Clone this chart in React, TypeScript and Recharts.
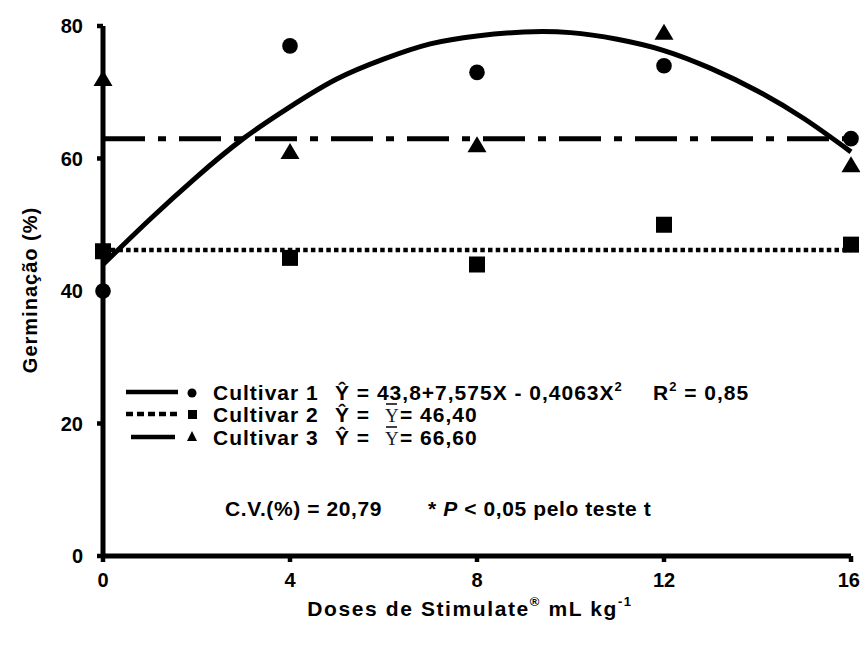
import React from 'react';
import { ComposedChart, XAxis, YAxis, Line, Scatter, ReferenceLine, Legend } from 'recharts';

const doses = [0, 4, 8, 12, 16];
const cultivar1 = [40, 77, 73, 74, 63];
const cultivar2 = [46, 45, 44, 50, 47];
const cultivar3 = [72, 61, 62, 79, 59];
const curveDoses = [0, 1, 2, 3, 4, 5, 6, 7, 8, 9, 10, 11, 12, 13, 14, 15, 16];
const curveValues = [44, 50.8, 57.2, 63, 67.8, 72, 75, 77.3, 78.5, 79.1, 79, 78, 76.3, 73.6, 70.2, 66, 61];
const meanLineCultivar2 = 46.2;
const meanLineCultivar3 = 63;
const xTicks = [0, 4, 8, 12, 16];
const yTicks = [0, 20, 40, 60, 80];
const seriesNames = ['Cultivar 1', 'Cultivar 2', 'Cultivar 3'];

const FONT = '"Liberation Sans", Arial, sans-serif';
const SERIF = '"Liberation Serif", "Times New Roman", serif';

const d1 = doses.map((x, i) => ({ x, y: cultivar1[i] }));
const d2 = doses.map((x, i) => ({ x, y: cultivar2[i] }));
const d3 = doses.map((x, i) => ({ x, y: cultivar3[i] }));
const curve = curveDoses.map((x, i) => ({ x, y: curveValues[i] }));

const CircleShape = (p: any) => <circle cx={p.cx} cy={p.cy} r={7.8} fill="#000" />;
const SquareShape = (p: any) => <rect x={p.cx - 8} y={p.cy - 8} width={16} height={16} fill="#000" />;
const TriangleShape = (p: any) => (
  <polygon points={`${p.cx},${p.cy - 9} ${p.cx + 9.5},${p.cy + 7} ${p.cx - 9.5},${p.cy + 7}`} fill="#000" />
);

const txt = { fontFamily: FONT, fontWeight: 'bold' as const, fill: '#000' };

const W = 860;
const H = 625;

const XTick = (props: any) => {
  const { x, y, payload, index } = props;
  const last = index === xTicks.length - 1;
  return (
    <text x={x} y={y} dy="0.71em" textAnchor={last ? 'end' : 'middle'} dx={last ? 9 : 0} fontSize={20} {...txt}>
      {payload.value}
    </text>
  );
};

const LegendContent = () => {
  const rows = [384, 406, 429];
  const fs = 21;
  const ls = 1.0;
  return (
    <svg width={W} height={H} style={{ position: 'absolute', left: 0, top: 0, overflow: 'visible', display: 'block' }}>
      {/* row 1 */}
      <line x1={118} x2={170} y1={rows[0]} y2={rows[0]} stroke="#000" strokeWidth={4.5} />
      <circle cx={184} cy={rows[0] + 1} r={4.5} fill="#000" />
      <text x={205} y={rows[0]} dominantBaseline="central" fontSize={fs} letterSpacing={ls} {...txt}>{seriesNames[0]}</text>
      <text x={327} y={rows[0]} dominantBaseline="central" fontSize={fs} letterSpacing={ls} {...txt}>
        Ŷ = 43,8+7,575X - 0,4063X<tspan fontSize={13} dy={-6}>2</tspan>
      </text>
      <text x={645} y={rows[0]} dominantBaseline="central" fontSize={fs} letterSpacing={ls} {...txt}>
        R<tspan fontSize={13} dy={-6}>2</tspan><tspan dy={6}> = 0,85</tspan>
      </text>
      {/* row 2 */}
      <line x1={118} x2={170} y1={rows[1]} y2={rows[1]} stroke="#000" strokeWidth={4.5} strokeDasharray="7 4" />
      <rect x={180} y={rows[1] - 4} width={9} height={9} fill="#000" />
      <text x={205} y={rows[1]} dominantBaseline="central" fontSize={fs} letterSpacing={ls} {...txt}>{seriesNames[1]}</text>
      <text x={327} y={rows[1]} dominantBaseline="central" fontSize={fs} letterSpacing={ls} {...txt}>Ŷ =</text>
      <text x={377} y={rows[1] + 1} dominantBaseline="central" fontSize={19} fontFamily={SERIF} fill="#1a1a2e">Y</text>
      <line x1={378} x2={389} y1={rows[1] - 10} y2={rows[1] - 10} stroke="#000" strokeWidth={1.5} />
      <text x={392} y={rows[1]} dominantBaseline="central" fontSize={fs} letterSpacing={ls} {...txt}>= 46,40</text>
      {/* row 3 */}
      <line x1={123} x2={167} y1={rows[2]} y2={rows[2]} stroke="#000" strokeWidth={4.5} />
      <polygon points={`184,${rows[2] - 6} 189,${rows[2] + 4} 179,${rows[2] + 4}`} fill="#000" />
      <text x={205} y={rows[2]} dominantBaseline="central" fontSize={fs} letterSpacing={ls} {...txt}>{seriesNames[2]}</text>
      <text x={327} y={rows[2]} dominantBaseline="central" fontSize={fs} letterSpacing={ls} {...txt}>Ŷ =</text>
      <text x={377} y={rows[2] + 1} dominantBaseline="central" fontSize={19} fontFamily={SERIF} fill="#1a1a2e">Y</text>
      <line x1={378} x2={389} y1={rows[2] - 10} y2={rows[2] - 10} stroke="#000" strokeWidth={1.5} />
      <text x={392} y={rows[2]} dominantBaseline="central" fontSize={fs} letterSpacing={ls} {...txt}>= 66,60</text>
      {/* CV line */}
      <text x={217} y={500} dominantBaseline="central" fontSize={fs} letterSpacing={0.6} {...txt}>C.V.(%) = 20,79</text>
      <text x={420} y={500} dominantBaseline="central" fontSize={fs} letterSpacing={0.6} {...txt}>
        * <tspan fontStyle="italic">P</tspan> &lt; 0,05 pelo teste t
      </text>
      {/* axis titles */}
      <text x={22} y={282} textAnchor="middle" dominantBaseline="central" fontSize={20} letterSpacing={1} transform="rotate(-90 22 282)" {...txt}>Germinação (%)</text>
      <text x={462} y={600} textAnchor="middle" dominantBaseline="central" fontSize={21} letterSpacing={1.6} {...txt}>
        Doses de Stimulate<tspan fontSize={13} dy={-7}>®</tspan><tspan dy={7}> mL kg</tspan><tspan fontSize={13} dy={-7}>-1</tspan>
      </text>
    </svg>
  );
};

export default function App() {
  const tick = { fill: '#000', fontSize: 20, fontWeight: 'bold', fontFamily: FONT };
  return (
    <>
      <style>{'html, body { overflow: hidden; } svg.recharts-surface { overflow: visible; }'}</style>
      <ComposedChart width={W} height={H} margin={{ top: 18, right: W - 843, left: 0, bottom: 0 }}>
        <XAxis
          dataKey="x"
          type="number"
          domain={[0, 16]}
          ticks={xTicks}
          interval={0}
          height={H - 548}
          tickSize={6}
          tickMargin={11}
          axisLine={{ stroke: '#000', strokeWidth: 5 }}
          tickLine={{ stroke: '#000', strokeWidth: 4.5 }}
          tick={XTick}
        />
        <YAxis
          type="number"
          domain={[0, 80]}
          ticks={yTicks}
          interval={0}
          width={95}
          tickSize={6}
          tickMargin={14}
          axisLine={{ stroke: '#000', strokeWidth: 5 }}
          tickLine={{ stroke: '#000', strokeWidth: 4.5 }}
          tick={tick}
        />
        <ReferenceLine y={meanLineCultivar3} stroke="#000" strokeWidth={5} strokeDasharray="42 13 8 13" ifOverflow="visible" />
        <ReferenceLine y={meanLineCultivar2} stroke="#000" strokeWidth={4.5} strokeDasharray="4.5 3.2" ifOverflow="visible" />
        <Line data={curve} dataKey="y" type="natural" stroke="#000" strokeWidth={5} dot={false} activeDot={false} isAnimationActive={false} legendType="none" />
        <Scatter data={d1} dataKey="y" name={seriesNames[0]} shape={CircleShape} isAnimationActive={false} />
        <Scatter data={d2} dataKey="y" name={seriesNames[1]} shape={SquareShape} isAnimationActive={false} />
        <Scatter data={d3} dataKey="y" name={seriesNames[2]} shape={TriangleShape} isAnimationActive={false} />
        <Legend
          layout="vertical"
          align="center"
          verticalAlign="middle"
          content={LegendContent}
          wrapperStyle={{ position: 'absolute', left: 0, top: 0, width: W, height: H, pointerEvents: 'none', lineHeight: 0 }}
        />
      </ComposedChart>
    </>
  );
}
